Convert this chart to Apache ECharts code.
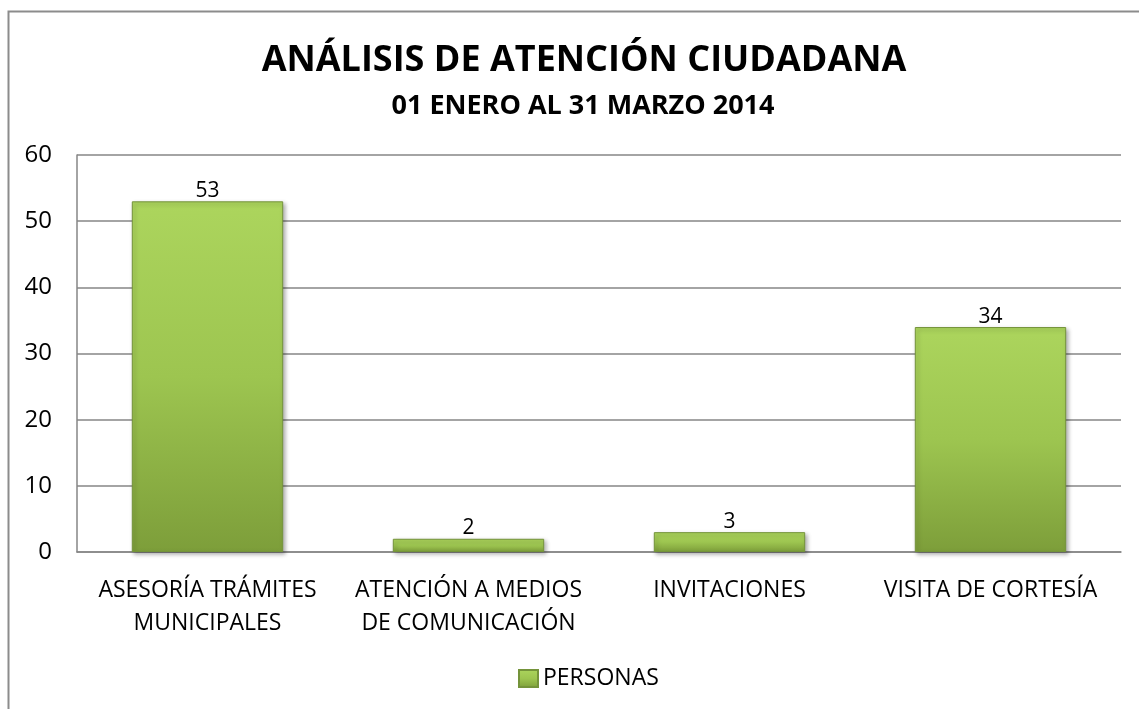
<!DOCTYPE html>
<html>
<head>
<meta charset="utf-8">
<script src="https://cdn.jsdelivr.net/npm/echarts@6/dist/echarts.min.js"></script>
<style>
  html, body { margin: 0; padding: 0; background: #fff; }
  #main { width: 1139px; height: 709px; }
</style>
</head>
<body>
<div id="main"></div>
<script>
var categories = ['ASESORÍA TRÁMITES\nMUNICIPALES', 'ATENCIÓN A MEDIOS\nDE COMUNICACIÓN', 'INVITACIONES', 'VISITA DE CORTESÍA'];
var personas = [53, 2, 3, 34];
var seriesName = 'PERSONAS';

var font = 'Open Sans';
var myChart = echarts.init(document.getElementById('main'));

// relleno verde, mas claro arriba
var barFill = new echarts.graphic.LinearGradient(0, 0, 0, 1, [
    {offset: 0, color: '#acd55d'},
    {offset: 0.5, color: '#9dc550'},
    {offset: 1, color: '#7d9e3a'}
]);

var option = {
    backgroundColor: '#fff',
    textStyle: {fontFamily: font},
    graphic: [
        {
            // marco del grafico (cortado a la derecha y abajo)
            type: 'polyline',
            shape: {points: [[8.5, 720], [8.5, 11.5], [1150, 11.5]]},
            style: {stroke: '#8c8c8c', lineWidth: 2, fill: null},
            silent: true
        }
    ],
    title: [
        {
            text: 'ANÁLISIS DE ATENCIÓN CIUDADANA',
            left: 579, top: 38, textAlign: 'center',
            textStyle: {fontFamily: font, fontSize: 36, fontWeight: 'bold', color: '#000'}
        },
        {
            text: '01 ENERO AL 31 MARZO 2014',
            left: 578, top: 88, textAlign: 'center',
            textStyle: {fontFamily: font, fontSize: 27, fontWeight: 'bold', color: '#000'}
        }
    ],
    legend: {
        data: [seriesName],
        top: 662,
        left: 513,
        icon: 'rect',
        itemWidth: 19,
        itemHeight: 17,
        itemGap: 6,
        textStyle: {fontFamily: font, fontSize: 23, color: '#000'}
    },
    grid: {left: 77, right: 18, top: 155, bottom: 157, containLabel: false},
    xAxis: {
        type: 'category',
        data: categories,
        axisLine: {show: true, lineStyle: {color: '#868686', width: 1.5}},
        axisTick: {show: false},
        axisLabel: {
            interval: 0, margin: 22, color: '#000',
            fontFamily: font, fontSize: 23, lineHeight: 33
        }
    },
    yAxis: {
        type: 'value',
        min: 0, max: 60, interval: 10,
        axisLine: {show: true, lineStyle: {color: '#868686', width: 1.5}},
        axisTick: {show: false},
        axisLabel: {margin: 25, color: '#000', fontFamily: font, fontSize: 24},
        splitLine: {lineStyle: {color: '#868686', width: 1.5}}
    },
    series: [
        {
            name: seriesName,
            type: 'bar',
            data: personas,
            barWidth: '58%',
            itemStyle: {
                color: barFill,
                borderColor: '#74933a',
                borderWidth: 1,
                shadowColor: 'rgba(0,0,0,0.3)',
                shadowBlur: 4,
                shadowOffsetX: 2,
                shadowOffsetY: 2
            },
            label: {
                show: true, position: 'top', distance: 0,
                color: '#000', fontFamily: font, fontSize: 21
            }
        }
    ]
};
myChart.setOption(option);
</script>
</body>
</html>
